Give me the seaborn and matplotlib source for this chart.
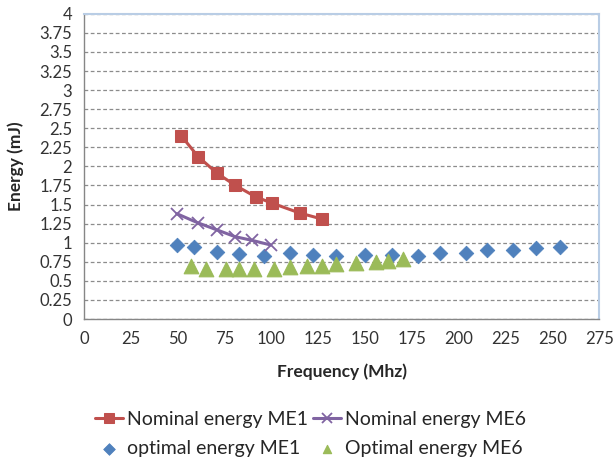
import matplotlib
matplotlib.use("Agg")
import matplotlib.pyplot as plt
import seaborn as sns
import numpy as np

# nominal energy ME1 (line + squares)
nom1_freq = [51.9, 60.8, 71.0, 80.8, 91.7, 100.2, 115.0, 127.0]
nom1_energy = [2.40, 2.13, 1.91, 1.75, 1.60, 1.52, 1.39, 1.31]

# nominal energy ME6 (line + x)
nom6_freq = [49.5, 60.8, 70.7, 80.5, 89.8, 99.6]
nom6_energy = [1.38, 1.26, 1.17, 1.08, 1.03, 0.97]

# optimal energy ME1 (diamonds)
opt1_freq = [49.7, 58.6, 71.0, 82.8, 96.1, 110.0, 122.0, 134.5, 149.7,
             164.2, 178.3, 190.0, 204.0, 215.1, 229.2, 241.4, 254.3]
opt1_energy = [0.97, 0.94, 0.88, 0.85, 0.83, 0.87, 0.84, 0.83, 0.84,
               0.84, 0.83, 0.86, 0.86, 0.90, 0.91, 0.93, 0.95]

# optimal energy ME6 (triangles)
opt6_freq = [56.9, 64.8, 75.8, 82.8, 90.7, 101.1, 110.0, 118.9, 127.0,
             134.7, 144.9, 155.6, 162.4, 170.2]
opt6_energy = [0.69, 0.66, 0.66, 0.66, 0.66, 0.65, 0.68, 0.69, 0.70,
               0.72, 0.73, 0.75, 0.76, 0.79]

x_ticks = list(range(0, 276, 25))
y_ticks = list(np.arange(0, 4.01, 0.25))

sns.set_style("white")
plt.rcParams['font.family'] = ['Lato', 'DejaVu Sans']

fig, ax = plt.subplots(figsize=(6.14, 4.61), dpi=100)
fig.subplots_adjust(left=0.137, right=0.976, top=0.97, bottom=0.308)

red = "#C0504D"
purple = "#8064A2"
blue = "#4F81BD"
green = "#9BBB59"

sns.lineplot(x=nom1_freq, y=nom1_energy, ax=ax, color=red, lw=2.2,
             marker="s", markersize=9, markeredgecolor=red,
             label="Nominal energy ME1")
sns.scatterplot(x=opt1_freq, y=opt1_energy, ax=ax, color=blue, marker="D",
                s=55, edgecolor=blue, label="optimal energy ME1")
sns.lineplot(x=nom6_freq, y=nom6_energy, ax=ax, color=purple, lw=2.2,
             marker="x", markersize=9, markeredgewidth=1.3,
             markeredgecolor=purple, label="Nominal energy ME6")
sns.scatterplot(x=opt6_freq, y=opt6_energy, ax=ax, color=green, marker="^",
                s=110, edgecolor=green, label="Optimal energy ME6")

ax.set_xlim(0, 275)
ax.set_ylim(0, 4)
ax.set_xticks(x_ticks)
ax.set_yticks(y_ticks)
ax.set_yticklabels([f"{v:g}" for v in y_ticks])
ax.tick_params(axis="both", labelsize=12, colors="#333333", length=5,
               direction="out", width=1)
ax.tick_params(axis="x", color="#868686")
ax.tick_params(axis="y", color="#868686")

ax.yaxis.grid(True, linestyle=(0, (3, 2)), color="#8c8c8c", lw=0.9)
ax.set_axisbelow(True)

for s in ["left", "bottom"]:
    ax.spines[s].set_color("#868686")
    ax.spines[s].set_linewidth(1)
for s in ["top", "right"]:
    ax.spines[s].set_color("#b9cde5")
    ax.spines[s].set_linewidth(1.5)

ax.set_xlabel("Frequency (Mhz)", fontsize=12.5, fontweight="bold", labelpad=12)
ax.set_ylabel("Energy (mJ)", fontsize=12.5, fontweight="bold", labelpad=11)

handles, labels = ax.get_legend_handles_labels()
leg = ax.legend(handles, labels, ncol=2, loc="upper center",
                bbox_to_anchor=(0.44, -0.276), frameon=False, fontsize=14,
                handlelength=1.45, handletextpad=0.2, columnspacing=0.25,
                labelspacing=0.6, borderaxespad=0)
for h in leg.legend_handles:
    if hasattr(h, "set_sizes"):
        h.set_sizes([35])
    else:
        h.set_markersize(7)

fig.savefig("out.png", dpi=100)
